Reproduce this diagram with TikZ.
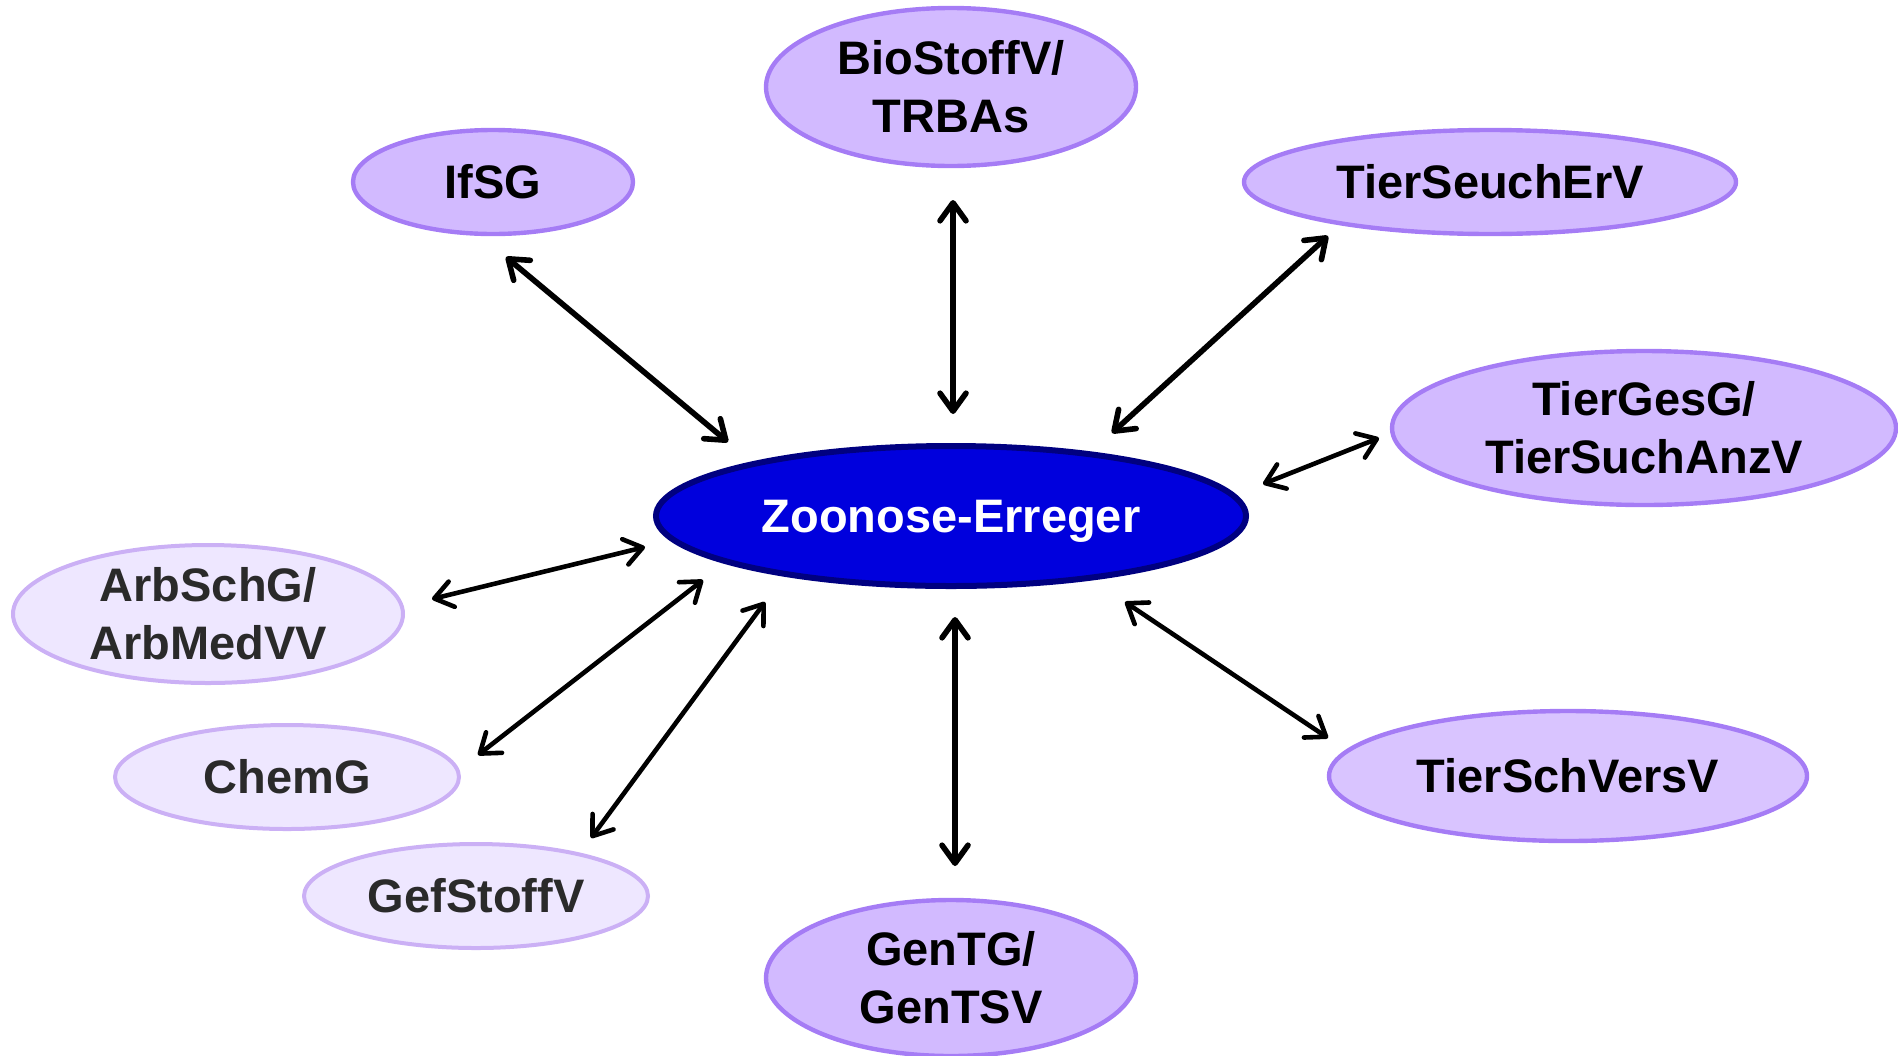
\documentclass[tikz,border=0pt]{standalone}
\usepackage{fontspec}
\setmainfont{Liberation Sans}
\usetikzlibrary{shapes.geometric,arrows.meta,calc}
\definecolor{regfill}{HTML}{D2BAFF}
\definecolor{regline}{HTML}{A57CF5}
\definecolor{fadefill}{HTML}{EEE7FF}
\definecolor{fadeline}{HTML}{CBB0F5}
\definecolor{fadetext}{HTML}{2A2A2A}
\definecolor{zoofill}{HTML}{0000DD}
\definecolor{zooline}{HTML}{000080}
\tikzset{
  base/.style={ellipse, inner xsep=0pt, inner ysep=-4pt, align=center,
    font=\fontsize{23.5}{29}\selectfont\bfseries},
  reg/.style={base, fill=regfill, draw=regline, line width=2.2pt},
  fade/.style={base, fill=fadefill, draw=fadeline, line width=2pt, text=fadetext},
  zoo/.style={base, fill=zoofill, draw=zooline, line width=3pt, text=white, text depth=0pt},
  arr/.style={{Straight Barb[length=9pt,width=13pt,round]}-{Straight Barb[length=9pt,width=13pt,round]},
    line width=2.8pt, line cap=round, black},
  arrthin/.style={arr, line width=2.3pt}
}
\begin{document}
\begin{tikzpicture}[x=0.5pt,y=-0.5pt]
\useasboundingbox (0,0) rectangle (1898,1055);
\node[zoo, minimum width=295pt, minimum height=70pt] (zoo) at (951,516) {Zoonose-Erreger};
\node[reg, minimum width=140pt, minimum height=52pt] (ifsg) at (493,182) {IfSG};
\node[reg, minimum width=185pt, minimum height=79pt] (bio) at (951,87) {BioStoffV/\\TRBAs};
\node[reg, minimum width=246pt, minimum height=52pt] (seuch) at (1490,182) {TierSeuchErV};
\node[reg, minimum width=252pt, minimum height=77pt] (ges) at (1644,428) {TierGesG/\\TierSuchAnzV};
\node[reg, fill=regfill!85!white, minimum width=239pt, minimum height=65pt] (schvers) at (1568,776) {TierSchVersV};
\node[reg, minimum width=185pt, minimum height=78pt] (gen) at (951,978) {GenTG/\\GenTSV};
\node[fade, minimum width=195pt, minimum height=69pt] (arb) at (208,614) {ArbSchG/\\ArbMedVV};
\node[fade, minimum width=172pt, minimum height=52pt] (chem) at (287,777) {ChemG};
\node[fade, minimum width=172pt, minimum height=52pt] (gef) at (476,896) {GefStoffV};

\draw[arr] ($(ifsg)+(13,75)$) -- ($(zoo)+(-223,-74)$);
\draw[arr] ($(bio)+(2,113)$) -- ($(zoo)+(2,-102)$);
\draw[arr] ($(seuch)+(-162,54)$) -- ($(zoo)+(161,-83)$);
\draw[arrthin] ($(ges)+(-265,10)$) -- ($(zoo)+(312,-32)$);
\draw[arrthin] ($(arb)+(224,-15)$) -- ($(zoo)+(-306,31)$);
\draw[arrthin] ($(chem)+(191,-22)$) -- ($(zoo)+(-248,64)$);
\draw[arrthin] ($(gef)+(115,-58)$) -- ($(zoo)+(-186,86)$);
\draw[arr] ($(gen)+(4,-112)$) -- ($(zoo)+(4,101)$);
\draw[arrthin] ($(schvers)+(-240,-38)$) -- ($(zoo)+(174,86)$);
\end{tikzpicture}
\end{document}
